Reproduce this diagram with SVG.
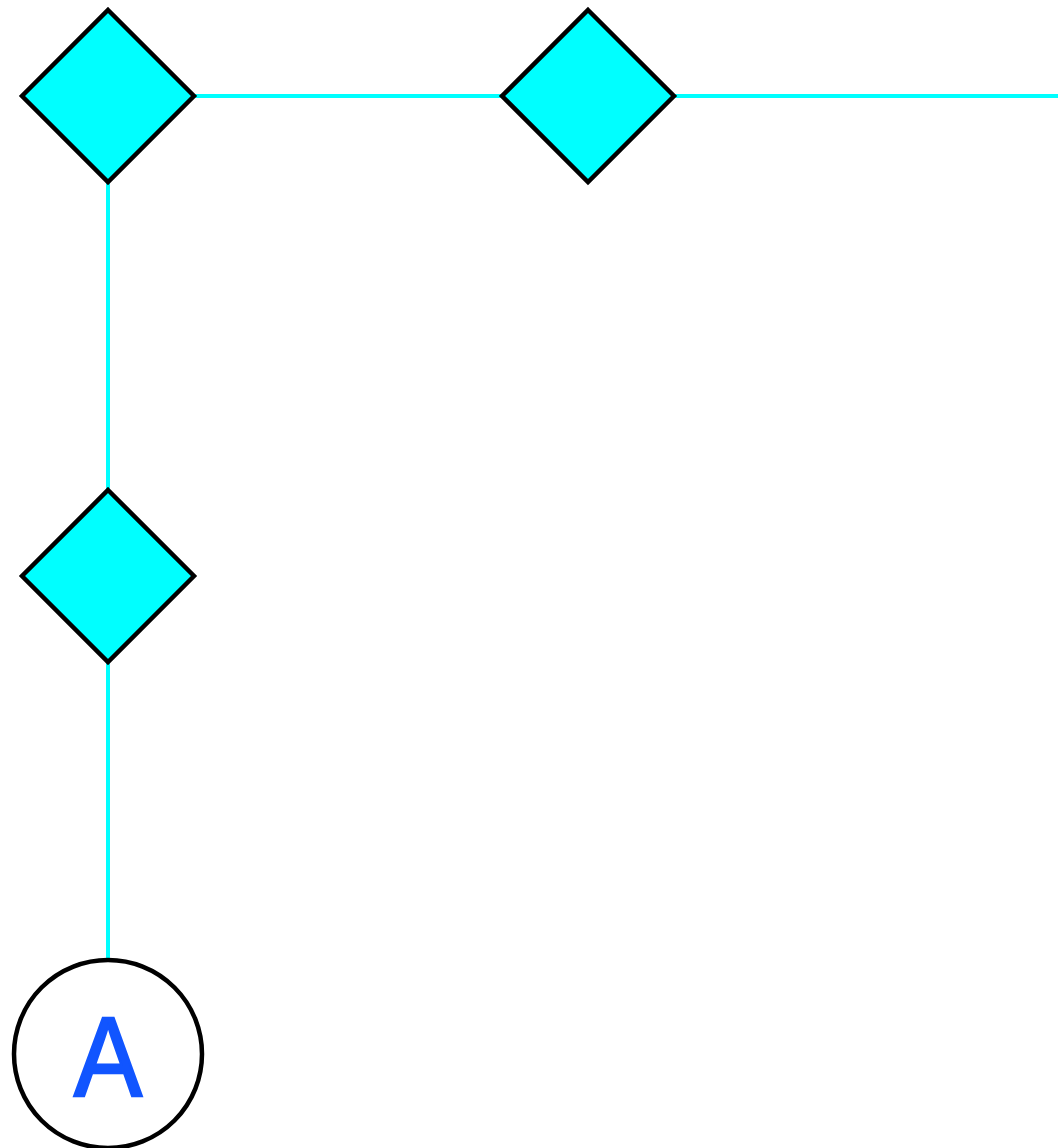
<svg xmlns="http://www.w3.org/2000/svg" width="1058" height="1148" viewBox="0 0 1058 1148">
<style>
.edge{stroke:#00ffff;stroke-width:4;fill:none}
.dia{fill:#00ffff;stroke:#000;stroke-width:4.5;stroke-linejoin:miter}
.circ{fill:#fff;stroke:#000;stroke-width:4.5}
.lbl{font-family:"Liberation Sans",Arial,sans-serif;font-size:114px;fill:#1155ff;stroke:#1155ff;stroke-width:2.5;text-anchor:middle}
</style>
<rect width="1058" height="1148" fill="#fff"/>
<g id="connectors">
<line class="edge" x1="194" y1="96" x2="502" y2="96"/>
<line class="edge" x1="674" y1="96" x2="1058" y2="96"/>
<line class="edge" x1="108" y1="182" x2="108" y2="490"/>
<line class="edge" x1="108" y1="662" x2="108" y2="961"/>
</g>
<g id="node1"><polygon class="dia" points="108,10 194,96 108,182 22,96"/></g>
<g id="node2"><polygon class="dia" points="588,10 674,96 588,182 502,96"/></g>
<g id="node3"><polygon class="dia" points="108,490 194,576 108,662 22,576"/></g>
<g id="nodeA"><circle class="circ" cx="108" cy="1054" r="94"/><text class="lbl" x="108" y="1096" textLength="68" lengthAdjust="spacingAndGlyphs">A</text></g>
</svg>
